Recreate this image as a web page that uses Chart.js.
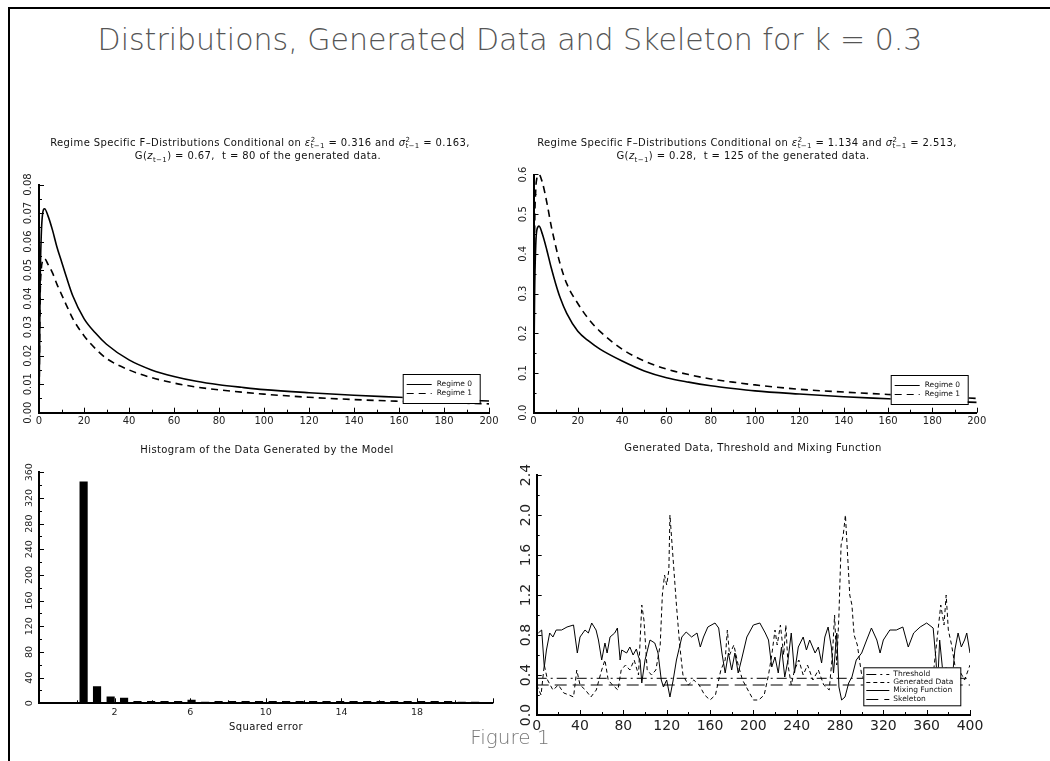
<!DOCTYPE html>
<html>
<head>
<meta charset="utf-8">
<script src="https://cdn.jsdelivr.net/npm/chart.js@4.4.1/dist/chart.umd.min.js"></script>
<style>
body { margin: 0; width: 1050px; height: 761px; background: #fff; position: relative; overflow: hidden; font-family: "DejaVu Sans", sans-serif; }
canvas { position: absolute; }
.t { position: absolute; text-align: center; white-space: nowrap; color: #111; }
.st { font-size: 10px; letter-spacing: 0.4px; }
.ss { display: inline-block; vertical-align: middle; line-height: 0.9; font-size: 70%; text-align: left; }
.ss sup, .ss sub { display: block; font-size: 100%; vertical-align: baseline; }
#mainTitle { left: 0; width: 1020px; top: 22px; font-size: 30px; font-weight: 200; color: #555; }
#fig { left: 420px; width: 180px; top: 725px; font-size: 20px; font-weight: 200; color: #777; }
#borderL { position: absolute; left: 8px; top: 7px; width: 2px; height: 754px; background: #000; }
#borderT { position: absolute; left: 8px; top: 7px; width: 1042px; height: 2px; background: #000; }
</style>
</head>
<body>
<div id="borderL"></div>
<div id="borderT"></div>
<div class="t" id="mainTitle">Distributions, Generated Data and Skeleton for k = 0.3</div>

<canvas id="c1" width="520" height="300" style="left:0;top:130px"></canvas>
<canvas id="c2" width="545" height="300" style="left:505px;top:130px"></canvas>
<canvas id="c3" width="520" height="321" style="left:0;top:440px"></canvas>
<canvas id="c4" width="545" height="321" style="left:505px;top:440px"></canvas>

<div class="t st" style="left:10px;width:500px;top:137px;">Regime Specific F&#8211;Distributions Conditional on <i>&#949;</i><span class="ss"><sup>2</sup><sub>t&#8722;1</sub></span> = 0.316 and <i>&#963;</i><span class="ss"><sup>2</sup><sub>t&#8722;1</sub></span> = 0.163,</div>
<div class="t st" style="left:8px;width:500px;top:150px;">G(<i>z</i><sub style="font-size:70%">t&#8722;1</sub>) = 0.67,&nbsp; t = 80 of the generated data.</div>
<div class="t st" style="left:497px;width:500px;top:137px;">Regime Specific F&#8211;Distributions Conditional on <i>&#949;</i><span class="ss"><sup>2</sup><sub>t&#8722;1</sub></span> = 1.134 and <i>&#963;</i><span class="ss"><sup>2</sup><sub>t&#8722;1</sub></span> = 2.513,</div>
<div class="t st" style="left:493px;width:500px;top:150px;">G(<i>z</i><sub style="font-size:70%">t&#8722;1</sub>) = 0.28,&nbsp; t = 125 of the generated data.</div>
<div class="t st" style="left:17px;width:500px;top:444px;">Histogram of the Data Generated by the Model</div>
<div class="t st" style="left:503px;width:500px;top:442px;">Generated Data, Threshold and Mixing Function</div>
<div class="t st" style="left:166px;width:200px;top:721px;">Squared error</div>
<div class="t" id="fig">Figure 1</div>

<script>
// top panels: F densities on a common grid
const distX = [0, 0.5, 1, 1.5, 2.5, 4, 6, 8, 10, 12, 15, 20, 25, 30, 40, 50, 60, 70, 80, 90, 100, 120, 140, 160, 180, 200];
const tlRegime0 = [0, 0.045, 0.062, 0.069, 0.0715, 0.069, 0.064, 0.058, 0.053, 0.048, 0.041, 0.033, 0.028, 0.024, 0.0185, 0.015, 0.0127, 0.011, 0.0098, 0.0089, 0.0081, 0.007, 0.0061, 0.0054, 0.0047, 0.0041];
const tlRegime1 = [0, 0.04, 0.05, 0.053, 0.054, 0.052, 0.049, 0.045, 0.0415, 0.038, 0.033, 0.027, 0.0225, 0.019, 0.015, 0.0123, 0.0104, 0.009, 0.008, 0.0072, 0.0065, 0.0054, 0.0046, 0.004, 0.0035, 0.0031];
const trRegime0 = [0, 0.3, 0.42, 0.46, 0.47, 0.45, 0.41, 0.365, 0.325, 0.29, 0.25, 0.205, 0.18, 0.16, 0.13, 0.105, 0.088, 0.077, 0.068, 0.061, 0.055, 0.047, 0.04, 0.035, 0.03, 0.026];
const trRegime1 = [0, 0.45, 0.56, 0.59, 0.6, 0.58, 0.53, 0.47, 0.42, 0.375, 0.325, 0.275, 0.235, 0.205, 0.16, 0.13, 0.11, 0.096, 0.085, 0.077, 0.07, 0.059, 0.052, 0.046, 0.041, 0.036];

// histogram
const histCenters = [0.36, 1.07, 1.79, 2.5, 3.21, 3.93, 4.64, 5.36, 6.07, 6.79, 7.5, 8.21, 8.93, 9.64, 10.36, 11.07, 11.79, 12.5, 13.21, 13.93, 14.64, 15.36, 16.07, 16.79, 17.5, 18.21, 18.93, 19.64, 20.36, 21.07];
const histCounts = [345, 26, 10, 8, 3, 3, 3, 3, 5, 2, 3, 3, 3, 3, 3, 3, 3, 3, 3, 3, 3, 3, 3, 3, 3, 3, 3, 3, 2, 2];

// generated data / mixing function
const genT = [0,4,7,10,15,20,25,30,34,37,40,45,50,55,60,63,66,70,75,78,82,86,90,94,97,99,102,106,110,114,116,118,120,122,123,125,127,129,132,135,140,145,150,155,160,165,170,174,176,178,182,186,190,195,200,205,210,214,217,220,222,225,228,230,232,235,238,242,246,250,255,260,265,270,273,275,277,279,281,283,285,287,289,291,293,296,300,305,310,315,320,330,340,350,360,365,368,370,373,376,378,380,383,386,390,395,400];
const genData = [0.3,0.2,0.5,0.35,0.25,0.3,0.22,0.2,0.18,0.45,0.3,0.25,0.18,0.25,0.45,0.55,0.35,0.3,0.25,0.45,0.5,0.45,0.55,0.4,1.1,0.95,0.45,0.4,0.45,0.7,1.2,1.4,1.3,1.45,2.0,1.7,1.4,1.1,0.7,0.4,0.3,0.35,0.3,0.2,0.15,0.2,0.45,0.55,0.85,0.6,0.7,0.5,0.35,0.25,0.15,0.15,0.2,0.4,0.6,0.85,0.7,0.9,0.6,0.9,0.5,0.3,0.45,0.55,0.4,0.5,0.35,0.45,0.3,0.25,0.6,1.0,0.5,1.0,1.7,1.8,2.0,1.6,1.2,1.1,0.8,0.7,0.4,0.3,0.2,0.35,0.3,0.25,0.2,0.25,0.2,0.3,0.6,0.8,1.1,0.9,1.2,0.85,0.7,0.5,0.45,0.35,0.5];
const mixT = [1.5,4.6,7,9,12,15,18,23,28,34,35,37.5,40,44.6,47.7,50.8,54.8,57,60,63,65,67.7,72,74.5,77,78.5,83,86,89,92,94,95.4,97,100,104.6,109,112,115,117,120,123,126,129,134,138,143,148,151,154,158,164.6,168,171,174,177,180,183,186,189,194,200,206,211,214,217,220,223,226,229,232,235,238,241.5,246,249,252,257,260,263,266,269,272,274,277,279,281.5,284.6,288,291,295,300,304.6,309,314,317,320,326,332,338,343,348,354,360,366,368.6,370,372,375,378,383,386,389,392,395,397,400];
const mixFn = [0.82,0.85,0.48,0.65,0.82,0.78,0.85,0.85,0.88,0.9,0.82,0.62,0.78,0.85,0.82,0.92,0.85,0.75,0.55,0.72,0.62,0.78,0.82,0.87,0.55,0.65,0.62,0.68,0.6,0.66,0.58,0.55,0.32,0.55,0.75,0.72,0.62,0.35,0.28,0.35,0.18,0.35,0.55,0.78,0.83,0.78,0.82,0.68,0.78,0.88,0.92,0.87,0.62,0.42,0.62,0.45,0.62,0.42,0.55,0.78,0.9,0.92,0.82,0.75,0.48,0.58,0.42,0.68,0.38,0.55,0.82,0.42,0.68,0.78,0.65,0.75,0.62,0.68,0.52,0.78,0.88,0.68,0.42,0.82,0.28,0.15,0.18,0.32,0.38,0.55,0.62,0.75,0.87,0.75,0.62,0.75,0.85,0.85,0.88,0.68,0.82,0.88,0.92,0.87,0.55,0.28,0.75,0.42,0.48,0.28,0.65,0.82,0.68,0.75,0.82,0.62];
const thresholdLevel = 0.367;
const skeletonLevel = 0.30;

const FONT = "'DejaVu Sans', sans-serif";
const zip = (xs, ys) => xs.map((x, i) => ({x: x, y: ys[i]}));

// inward tick marks, IDL style
const innerTicks = {
	id: 'innerTicks',
	afterDraw(chart, args, o) {
		const ctx = chart.ctx, a = chart.chartArea;
		const xs = chart.scales.x, ys = chart.scales.y;
		ctx.save();
		ctx.strokeStyle = '#000';
		ctx.lineWidth = 1;
		ctx.beginPath();
		for (let v = xs.min, k = 0; v <= xs.max + 1e-9; v = xs.min + (++k) * o.xMinor) {
			const px = Math.round(xs.getPixelForValue(v)) + 0.5;
			const len = (k % o.xEvery === 0) ? 5 : 3;
			ctx.moveTo(px, a.bottom);
			ctx.lineTo(px, a.bottom - len);
		}
		for (let v = ys.min, k = 0; v <= ys.max + 1e-9; v = ys.min + (++k) * o.yMinor) {
			const py = Math.round(ys.getPixelForValue(v)) + 0.5;
			const len = (k % o.yEvery === 0) ? 5 : 3;
			ctx.moveTo(a.left, py);
			ctx.lineTo(a.left + len, py);
		}
		ctx.stroke();
		ctx.restore();
	}
};

// y tick labels rotated to read bottom-to-top
const rotY = {
	id: 'rotY',
	afterDraw(chart, args, o) {
		const ctx = chart.ctx, ys = chart.scales.y, a = chart.chartArea;
		ctx.save();
		ctx.font = o.font;
		ctx.fillStyle = o.color || '#222';
		ctx.textAlign = 'center';
		ctx.textBaseline = 'middle';
		ys.ticks.forEach(t => {
			const py = ys.getPixelForValue(t.value);
			ctx.save();
			ctx.translate(a.left - o.offset, py);
			ctx.rotate(-Math.PI / 2);
			ctx.fillText(o.fmt(t.value), 0, 0);
			ctx.restore();
		});
		ctx.restore();
	}
};

// boxed legend inside the plot
const boxLegend = {
	id: 'boxLegend',
	afterDatasetsDraw(chart, args, o) {
		const ctx = chart.ctx;
		ctx.save();
		ctx.fillStyle = '#fff';
		ctx.fillRect(o.x, o.y, o.w, o.h);
		ctx.strokeStyle = '#000';
		ctx.lineWidth = 1;
		ctx.strokeRect(o.x + 0.5, o.y + 0.5, o.w, o.h);
		ctx.font = o.font;
		ctx.fillStyle = '#111';
		ctx.textBaseline = 'middle';
		o.order.forEach((di, i) => {
			const ds = chart.data.datasets[di];
			const yy = Math.round(o.y + o.top + i * o.row) + 0.5;
			ctx.setLineDash(ds.borderDash || []);
			ctx.lineWidth = 1;
			ctx.beginPath();
			ctx.moveTo(o.x + o.l0, yy);
			ctx.lineTo(o.x + o.l1, yy);
			ctx.stroke();
			ctx.setLineDash([]);
			ctx.fillText(ds.label, o.x + o.tx, yy);
		});
		ctx.restore();
	}
};

function axisOpts(min, max, step, size, fmt, fontSize, pad) {
	return {
		type: 'linear', min: min, max: max, offset: false,
		grid: { display: false, drawTicks: false },
		border: { display: true, color: '#000', width: 2 },
		ticks: { stepSize: step, padding: pad, color: '#222', font: { family: FONT, size: fontSize }, callback: fmt, maxRotation: 0, autoSkip: false },
		afterFit: s => { if (s.isHorizontal()) s.height = size; else s.width = size; }
	};
}

function distChart(id, r0, r1, ymax, ystep, yfmt, pad, legendPos) {
	const yAxis = axisOpts(0, ymax, ystep, pad.yw, () => '', 10, 0);
	return new Chart(document.getElementById(id), {
		type: 'line',
		data: {
			datasets: [
				{ label: 'Regime 0', data: zip(distX, r0), borderColor: '#000', borderWidth: 1.6, pointRadius: 0, cubicInterpolationMode: 'monotone' },
				{ label: 'Regime 1', data: zip(distX, r1), borderColor: '#000', borderWidth: 1.6, borderDash: [7, 5], pointRadius: 0, cubicInterpolationMode: 'monotone' }
			]
		},
		options: {
			responsive: false, animation: false, events: [],
			layout: { padding: { top: pad.top, right: pad.right, left: 0, bottom: 0 } },
			scales: {
				x: axisOpts(0, 200, 20, pad.xh, v => String(v), 10, 3),
				y: yAxis
			},
			plugins: {
				legend: { display: false }, tooltip: { enabled: false },
				innerTicks: { xMinor: 10, xEvery: 2, yMinor: ystep / 2, yEvery: 2 },
				rotY: { font: '10px ' + FONT, offset: pad.lab, fmt: yfmt },
				boxLegend: Object.assign({ font: '7.5px ' + FONT, order: [0, 1], top: 9.5, row: 9.4, l0: 4, l1: 29, tx: 34, w: 77, h: 29 }, legendPos)
			}
		},
		plugins: [innerTicks, rotY, boxLegend]
	});
}

distChart('c1', tlRegime0, tlRegime1, 0.08, 0.01, v => v.toFixed(2),
	{ top: 54.5, right: 31, yw: 39, xh: 17.3, lab: 11 }, { x: 402.7, y: 244 });
distChart('c2', trRegime0, trRegime1, 0.6, 0.1, v => v.toFixed(1),
	{ top: 44.5, right: 73.3, yw: 28.5, xh: 17.3, lab: 10 }, { x: 385.7, y: 245 });

// histogram
new Chart(document.getElementById('c3'), {
	type: 'bar',
	data: {
		datasets: [{ label: 'Count', data: zip(histCenters, histCounts), backgroundColor: '#000', borderWidth: 0, barThickness: 7.5 }]
	},
	options: {
		responsive: false, animation: false, events: [],
		layout: { padding: { top: 32.3, right: 27.3, left: 0, bottom: 0 } },
		scales: {
			x: axisOpts(-2, 22, 4, 57.7, v => (v < 0 || v > 20) ? '' : String(v), 9.5, 4),
			y: axisOpts(0, 360, 40, 39, () => '', 9, 0)
		},
		plugins: {
			legend: { display: false }, tooltip: { enabled: false },
			innerTicks: { xMinor: 2, xEvery: 2, yMinor: 20, yEvery: 2 },
			rotY: { font: '9.5px ' + FONT, offset: 9, fmt: v => String(v) }
		}
	},
	plugins: [innerTicks, rotY]
});

// generated data, threshold and mixing function
new Chart(document.getElementById('c4'), {
	type: 'line',
	data: {
		datasets: [
			{ label: 'Threshold', data: [{x: 0, y: thresholdLevel}, {x: 400, y: thresholdLevel}], borderColor: '#000', borderWidth: 1, borderDash: [10, 4, 2, 4], pointRadius: 0 },
			{ label: 'Generated Data', data: zip(genT, genData), borderColor: '#000', borderWidth: 1, borderDash: [4, 3], pointRadius: 0, tension: 0 },
			{ label: 'Mixing Function', data: zip(mixT, mixFn), borderColor: '#000', borderWidth: 1, pointRadius: 0, tension: 0 },
			{ label: 'Skeleton', data: [{x: 0, y: skeletonLevel}, {x: 400, y: skeletonLevel}], borderColor: '#000', borderWidth: 1, borderDash: [12, 6], pointRadius: 0 }
		]
	},
	options: {
		responsive: false, animation: false, events: [],
		layout: { padding: { top: 35, right: 80, left: 0, bottom: 0 } },
		scales: {
			x: axisOpts(0, 400, 40, 46, v => String(v), 14, 3),
			y: axisOpts(0, 2.4, 0.4, 31.7, () => '', 14, 0)
		},
		plugins: {
			legend: { display: false }, tooltip: { enabled: false },
			innerTicks: { xMinor: 20, xEvery: 2, yMinor: 0.2, yEvery: 2 },
			rotY: { font: '14px ' + FONT, offset: 10, fmt: v => v.toFixed(1) },
			boxLegend: { x: 358.3, y: 227.3, w: 97, h: 38, font: '7.5px ' + FONT, order: [0, 1, 2, 3], top: 6.7, row: 8.2, l0: 3, l1: 26, tx: 30 }
		}
	},
	plugins: [innerTicks, rotY, boxLegend]
});
</script>
</body>
</html>
